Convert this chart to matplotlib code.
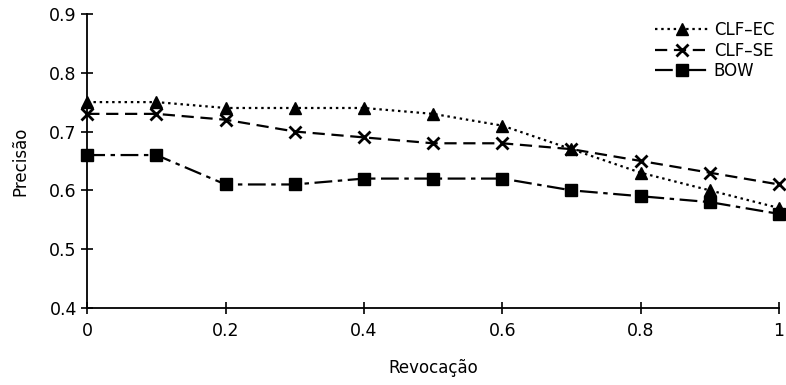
import matplotlib
matplotlib.use('Agg')
import matplotlib.pyplot as plt

# Data
revocacao = [0, 0.1, 0.2, 0.3, 0.4, 0.5, 0.6, 0.7, 0.8, 0.9, 1.0]
clf_ec = [0.75, 0.75, 0.74, 0.74, 0.74, 0.73, 0.71, 0.67, 0.63, 0.60, 0.57]
clf_se = [0.73, 0.73, 0.72, 0.70, 0.69, 0.68, 0.68, 0.67, 0.65, 0.63, 0.61]
bow = [0.66, 0.66, 0.61, 0.61, 0.62, 0.62, 0.62, 0.60, 0.59, 0.58, 0.56]

plt.rcParams['font.family'] = ['DejaVu Sans']

fig = plt.figure(figsize=(7.86, 3.85), dpi=100)
ax = fig.add_axes([0.111, 0.2, 0.880, 0.764])

ax.plot(revocacao, clf_ec, color='black', linestyle=(0, (1.1, 1.7)), linewidth=1.6,
        marker='^', markersize=9, label='CLF\u2013EC', clip_on=False)
ax.plot(revocacao, clf_se, color='black', linestyle=(0, (5.5, 3)), linewidth=1.6,
        marker='x', markersize=8, markeredgewidth=2, label='CLF\u2013SE', clip_on=False)
ax.plot(revocacao, bow, color='black', linestyle=(0, (8, 2.5, 2, 2.5)), linewidth=1.6,
        marker='s', markersize=8, label='BOW', clip_on=False)

ax.set_xlim(0, 1)
ax.set_ylim(0.4, 0.9)
ax.set_xticks([0, 0.2, 0.4, 0.6, 0.8, 1])
ax.set_xticklabels(['0', '0.2', '0.4', '0.6', '0.8', '1'])
ax.set_yticks([0.4, 0.5, 0.6, 0.7, 0.8, 0.9])

for side in ['top', 'right']:
    ax.spines[side].set_visible(False)
for side in ['left', 'bottom']:
    ax.spines[side].set_linewidth(1.3)

ax.tick_params(direction='inout', length=8, width=1.2, labelsize=12.5)
ax.tick_params(axis='x', pad=6)

ax.set_xlabel('Revocação', fontsize=12, labelpad=14)
ax.set_ylabel('Precisão', fontsize=12, labelpad=14)

ax.legend(loc='upper right', bbox_to_anchor=(1.01, 1.015), frameon=False, fontsize=12,
          handlelength=3.2, handletextpad=0.3, labelspacing=0.15, borderaxespad=0.3)

plt.savefig('out.png', dpi=100)
